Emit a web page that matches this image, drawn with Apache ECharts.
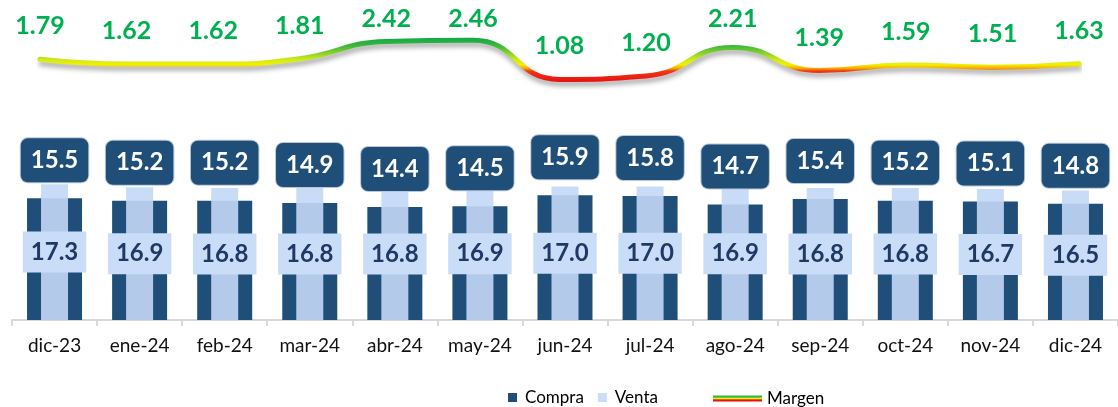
<!DOCTYPE html>
<html>
<head>
<meta charset="utf-8">
<script src="https://cdn.jsdelivr.net/npm/echarts@6/dist/echarts.min.js"></script>
<style>
html,body{margin:0;padding:0;background:#fff;}
#chart{width:1118px;height:407px;}
</style>
</head>
<body>
<div id="chart"></div>
<script>
var categories = ['dic-23','ene-24','feb-24','mar-24','abr-24','may-24','jun-24','jul-24','ago-24','sep-24','oct-24','nov-24','dic-24'];
var compra = [15.5,15.2,15.2,14.9,14.4,14.5,15.9,15.8,14.7,15.4,15.2,15.1,14.8];
var venta = [17.3,16.9,16.8,16.8,16.8,16.9,17.0,17.0,16.9,16.8,16.8,16.7,16.5];
var margen = [1.79,1.62,1.62,1.81,2.42,2.46,1.08,1.20,2.21,1.39,1.59,1.51,1.63];

var FONT = 'Lato';
var chart = echarts.init(document.getElementById('chart'), null, {renderer:'canvas'});

var lineGrad = new echarts.graphic.LinearGradient(0, 38, 0, 82, [
  {offset:0, color:'#10a94a'},
  {offset:0.18, color:'#3db83a'},
  {offset:0.36, color:'#8fd42a'},
  {offset:0.5, color:'#d2ec14'},
  {offset:0.61, color:'#f2f000'},
  {offset:0.69, color:'#f7a800'},
  {offset:0.75, color:'#f03818'},
  {offset:1, color:'#e61010'}
], true);

var legendGrad = new echarts.graphic.LinearGradient(0, 0, 0, 1, [
  {offset:0, color:'#2db84a'},{offset:0.33, color:'#2db84a'},
  {offset:0.34, color:'#f0f000'},{offset:0.66, color:'#f0f000'},
  {offset:0.67, color:'#e81010'},{offset:1, color:'#e81010'}
]);

var option = {
  animation: false,
  backgroundColor: '#ffffff',
  grid: [
    {left: 12, top: 163, width: 1111, height: 157},
    {left: 40, right: 39, top: 25, height: 85}
  ],
  legend: [
    {
      data: [{name:'Compra', itemStyle:{color:'#1f4e79'}}, {name:'Venta', itemStyle:{color:'#c9ddf8'}}],
      left: 503, top: 384, icon: 'rect', itemWidth: 9, itemHeight: 9, itemGap: 14,
      selectedMode: false,
      textStyle: {fontFamily: FONT, fontSize: 17, color: '#000', padding: [0,0,0,3]}
    },
    {
      data: [{name:'Margen', icon:'rect', itemStyle:{color: legendGrad, borderWidth:0, shadowBlur:0}}],
      left: 708, top: 385, itemWidth: 49, itemHeight: 6,
      selectedMode: false,
      lineStyle: {shadowBlur: 0, shadowOffsetY: 0},
      textStyle: {fontFamily: FONT, fontSize: 17, color: '#000'}
    }
  ],
  xAxis: [
    {
      type: 'category', gridIndex: 0, data: categories,
      axisLine: {lineStyle: {color: '#d9d9d9', width: 2}},
      axisTick: {show: true, length: 6, lineStyle: {color: '#d9d9d9', width: 2}},
      axisLabel: {fontFamily: FONT, fontSize: 19, color: '#111', margin: 16, interval: 0}
    },
    {type: 'category', gridIndex: 0, data: categories, show: false},
    {type: 'category', gridIndex: 1, data: categories, boundaryGap: false, show: false}
  ],
  yAxis: [
    {type: 'value', gridIndex: 0, min: 0, max: 20, show: false, splitLine: {show: false}},
    {type: 'value', gridIndex: 1, min: 0, max: 3, show: false, splitLine: {show: false}}
  ],
  series: [
    {
      name: 'Compra', type: 'bar', xAxisIndex: 0, yAxisIndex: 0, data: compra,
      barWidth: 55, barGap: '-100%', z: 2, silent: true,
      itemStyle: {color: '#1f4e79'}
    },
    {
      name: 'Venta', type: 'bar', xAxisIndex: 1, yAxisIndex: 0, data: venta,
      barWidth: 27, z: 3, silent: true,
      itemStyle: {color: 'rgba(195,216,246,0.9)'},
      label: {
        show: true, position: 'inside',
        formatter: function(p){ return p.value.toFixed(1); },
        fontFamily: FONT, fontSize: 24, fontWeight: 'bold', color: '#1f3864',
        backgroundColor: '#c9ddf8', padding: [8, 8, 8, 8], lineHeight: 25
      }
    },
    {
      name: 'CompraEtiqueta', type: 'bar', xAxisIndex: 0, yAxisIndex: 0, data: compra,
      barWidth: 55, barGap: '-100%', z: 4, silent: true,
      itemStyle: {color: 'rgba(0,0,0,0)'},
      label: {
        show: true, position: 'top', distance: 16,
        formatter: function(p){ return p.value.toFixed(1); },
        fontFamily: FONT, fontSize: 24, fontWeight: 'bold', color: '#ffffff',
        backgroundColor: '#1f4e79', borderColor: '#b8c7da', borderWidth: 1, borderRadius: 7,
        padding: [10, 10, 10, 10], lineHeight: 24
      }
    },
    {
      name: 'Margen', type: 'line', xAxisIndex: 2, yAxisIndex: 1, data: margen,
      smooth: true, symbol: 'circle', symbolSize: 1, silent: true, z: 5,
      itemStyle: {color: 'rgba(0,0,0,0)'},
      lineStyle: {
        width: 5, color: lineGrad, cap: 'round',
        shadowColor: 'rgba(0,0,0,0.35)', shadowBlur: 5, shadowOffsetY: 4, shadowOffsetX: 1
      },
      label: {
        show: true, position: 'top', distance: 20,
        formatter: function(p){ return p.value.toFixed(2); },
        fontFamily: FONT, fontSize: 25, fontWeight: 'bold', color: '#00b050', lineHeight: 25
      },
      labelLayout: function(p){
        var top = p.labelRect.y;
        return top < 6 ? {dy: 6 - top} : {};
      }
    }
  ]
};
chart.setOption(option);
</script>
</body>
</html>
